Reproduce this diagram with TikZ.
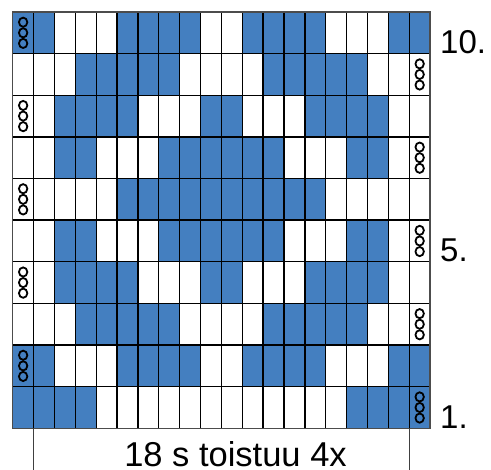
\documentclass[tikz,border=0pt]{standalone}
\usepackage{fontspec}
\setmainfont{Liberation Sans}
\definecolor{cellblue}{RGB}{68,127,192}
\tikzset{
  gridline/.style={black, line width=1.3pt},
  borderline/.style={black!70, line width=1.3pt},
  loopsym/.style={black, line width=1.8pt},
  rowlabel/.style={anchor=base west, inner sep=0pt, font=\fontsize{33}{33}\selectfont},
  repline/.style={black!75, line width=1pt}
}
\newcommand{\cw}{20.87}
\newcommand{\chh}{41.63}
\newcommand{\gx}{12.7}
\newcommand{\gy}{12}
\begin{document}
\begin{tikzpicture}[x=1pt,y=-1pt]
\useasboundingbox (0,0) rectangle (491,470);
% blue cells, r=1 is the top row (row 10)
\foreach \r/\cols in {
  1/{1,2,6,7,8,9,12,13,14,15,19,20},
  2/{4,5,6,7,8,13,14,15,16,17},
  3/{3,4,5,6,10,11,15,16,17,18},
  4/{3,4,8,9,10,11,12,13,17,18},
  5/{6,7,8,9,10,11,12,13,14,15},
  6/{3,4,8,9,10,11,12,13,17,18},
  7/{3,4,5,6,10,11,15,16,17,18},
  8/{4,5,6,7,8,13,14,15,16,17},
  9/{1,2,6,7,8,9,12,13,14,15,19,20},
  10/{1,2,3,4,17,18,19,20}}{
  \foreach \c in \cols {
    \fill[cellblue] ({\gx+(\c-1)*\cw},{\gy+(\r-1)*\chh}) rectangle ({\gx+\c*\cw},{\gy+\r*\chh});
  }
}
% grid lines
\foreach \i in {1,...,19} {
  \draw[gridline] ({\gx+\i*\cw},\gy) -- ({\gx+\i*\cw},{\gy+10*\chh});
}
\foreach \j in {1,...,9} {
  \draw[gridline] (\gx,{\gy+\j*\chh}) -- ({\gx+20*\cw},{\gy+\j*\chh});
}
\draw[borderline] (\gx,\gy) rectangle ({\gx+20*\cw},{\gy+10*\chh});
% loop symbols: column/row
\foreach \c/\r in {1/1,20/2,1/3,20/4,1/5,20/6,1/7,20/8,1/9,20/10} {
  \foreach \k in {-1,0,1} {
    \draw[loopsym] ({\gx+(\c-0.5)*\cw},{\gy+(\r-0.5)*\chh+\k*10.6}) ellipse [x radius=4.2, y radius=4.6];
  }
}
% row labels
\node[rowlabel] (l10) at (440,53.3) {10.};
\node[rowlabel] (l5) at (440,{\gy+6*\chh}) {5.};
\node[rowlabel] (l1) at (440,{\gy+10*\chh}) {1.};
% repeat marks
\coordinate (ra) at ({\gx+\cw},{\gy+10*\chh});
\coordinate (rb) at ({\gx+\cw},470);
\coordinate (rc) at ({\gx+19*\cw},{\gy+10*\chh});
\coordinate (rd) at ({\gx+19*\cw},470);
\draw[repline] (ra) -- (rb);
\draw[repline] (rc) -- (rd);
\node[anchor=base, inner sep=0pt, font=\fontsize{34.5}{34.5}\selectfont] (rep) at (235.5,467) {18 s toistuu 4x};
\end{tikzpicture}
\end{document}
